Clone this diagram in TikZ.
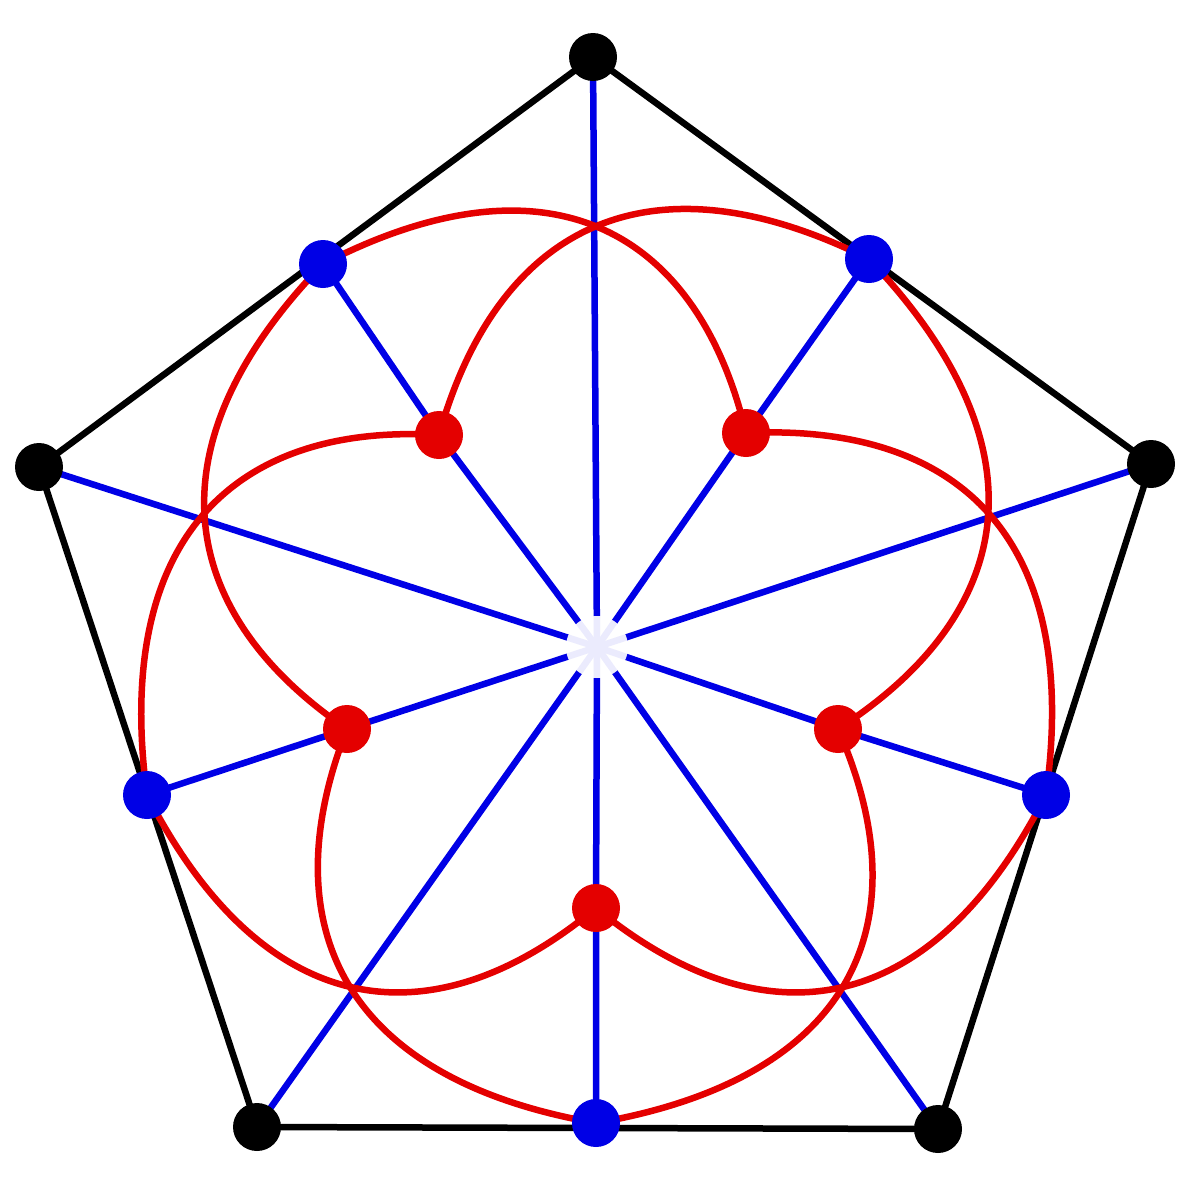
\documentclass[tikz,border=0pt]{standalone}
\pgfdeclarelayer{back}
\pgfsetlayers{back,main}
\definecolor{dotblue}{RGB}{0,0,230}
\definecolor{dotred}{RGB}{228,0,0}
\tikzset{
  dot/.style={circle, inner sep=0pt, minimum size=48pt},
  blackdot/.style={dot, fill=black},
  bluedot/.style={dot, fill=dotblue},
  reddot/.style={dot, fill=dotred},
  hub/.style={circle, inner sep=0pt, minimum size=62pt, fill=white, fill opacity=0.92},
  rim/.style={line width=6.5pt, black},
  spoke/.style={line width=6.5pt, dotblue},
  petal/.style={line width=6.5pt, dotred},
}
\begin{document}
\begin{tikzpicture}[x=1pt, y=-1pt]
\useasboundingbox (0,0) rectangle (1200,1200);

\node[blackdot] (k1) at (593,57) {};
\node[blackdot] (k2) at (1151,464) {};
\node[blackdot] (k3) at (938,1129) {};
\node[blackdot] (k4) at (257,1127) {};
\node[blackdot] (k5) at (39,467) {};

\node[bluedot] (b1) at (323,264) {};
\node[bluedot] (b2) at (869,259) {};
\node[bluedot] (b3) at (1046,795) {};
\node[bluedot] (b4) at (596,1123) {};
\node[bluedot] (b5) at (147,795) {};

\node[reddot] (r1) at (439,435) {};
\node[reddot] (r2) at (746,433) {};
\node[reddot] (r3) at (838,729) {};
\node[reddot] (r4) at (596,908) {};
\node[reddot] (r5) at (347,729) {};

\node[hub] (c) at (597,647) {};

\begin{pgfonlayer}{back}
% outer pentagon
\draw[rim] (k1.center) -- (k2.center) -- (k3.center) -- (k4.center) -- (k5.center) -- cycle;

% spokes
\draw[spoke] (c.center) -- (k1.center);
\draw[spoke] (c.center) -- (k2.center);
\draw[spoke] (c.center) -- (k3.center);
\draw[spoke] (c.center) -- (k4.center);
\draw[spoke] (c.center) -- (k5.center);
\draw[spoke] (c.center) -- (r1.center) -- (b1.center);
\draw[spoke] (c.center) -- (r2.center) -- (b2.center);
\draw[spoke] (c.center) -- (r3.center) -- (b3.center);
\draw[spoke] (c.center) -- (r4.center) -- (b4.center);
\draw[spoke] (c.center) -- (r5.center) -- (b5.center);

% petals
\draw[petal] (r1.center) .. controls (495,235) and (640,145) .. (b2.center);
\draw[petal] (r1.center) .. controls (240,423) and (112,533) .. (b5.center);
\draw[petal] (r2.center) .. controls (954,423) and (1082,533) .. (b3.center);
\draw[petal] (r2.center) .. controls (699,235) and (554,145) .. (b1.center);
\draw[petal] (r3.center) .. controls (922,920) and (857,1078) .. (b4.center);
\draw[petal] (r3.center) .. controls (1012,617) and (1052,451) .. (b2.center);
\draw[petal] (r4.center) .. controls (437,1040) and (267,1028) .. (b5.center);
\draw[petal] (r4.center) .. controls (757,1040) and (927,1028) .. (b3.center);
\draw[petal] (r5.center) .. controls (182,617) and (142,451) .. (b1.center);
\draw[petal] (r5.center) .. controls (272,920) and (337,1078) .. (b4.center);
\end{pgfonlayer}

\end{tikzpicture}
\end{document}
